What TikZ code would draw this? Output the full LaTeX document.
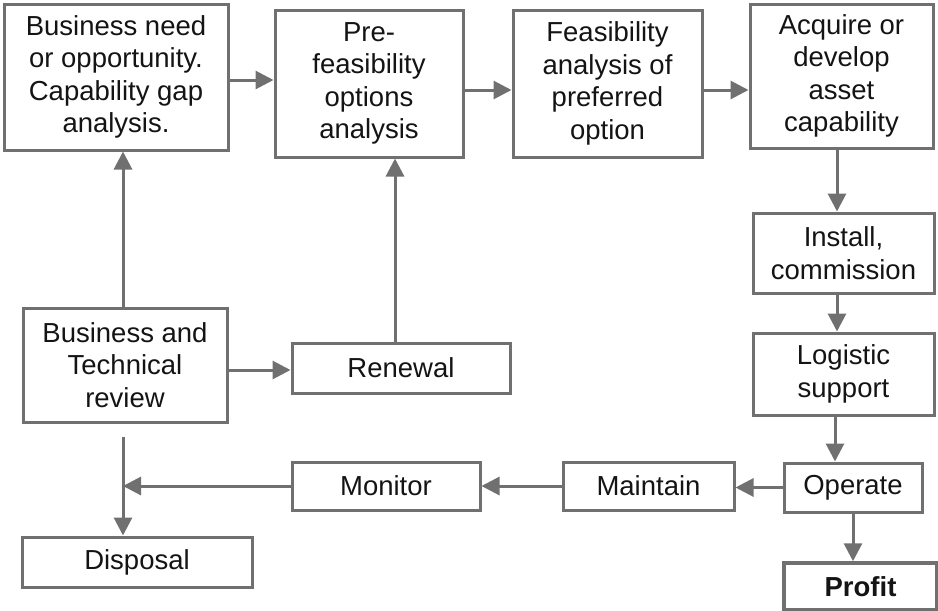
\documentclass[tikz,border=0pt]{standalone}
\usepackage{fontspec}
\setmainfont{Liberation Sans}
\usetikzlibrary{arrows.meta}
\definecolor{edgegray}{RGB}{112,112,112}
\definecolor{inkcol}{RGB}{20,20,20}
\begin{document}
\begin{tikzpicture}[x=1pt,y=-1pt,
  stage/.style={draw=edgegray, line width=3pt, fill=white, rectangle,
    align=center, text=inkcol, inner sep=0pt,
    font=\fontsize{27.5}{32.5}\selectfont},
  flow/.style={draw=edgegray, line width=3pt,
    -{Triangle[length=18pt,width=18pt]}}]
\useasboundingbox (0,0) rectangle (938,611);

% top row
\node[stage, minimum width=224, minimum height=146] (need) at (116,77)
  {Business need\\or opportunity.\\Capability gap\\analysis.};
\node[stage, minimum width=188, minimum height=147] (pre) at (369,83.5)
  {Pre-\\feasibility\\options\\analysis};
\node[stage, minimum width=189, minimum height=147] (feas) at (607.5,83.5)
  {Feasibility\\analysis of\\preferred\\option};
\node[stage, minimum width=183, minimum height=144] (acq) at (841.5,76)
  {Acquire or\\develop\\asset\\capability};

% right column
\node[stage, minimum width=181, minimum height=80] (inst) at (843.5,253)
  {Install,\\commission};
\node[stage, minimum width=181, minimum height=82] (logi) at (843.5,374)
  {Logistic\\support};
\node[stage, minimum width=138, minimum height=49] (oper) at (853,487.5)
  {Operate};
\node[stage, minimum width=153, minimum height=47, line width=3.5pt,
  font=\fontsize{27.5}{32.5}\selectfont\bfseries] (prof) at (860.5,586.5)
  {Profit};

% bottom row
\node[stage, minimum width=171, minimum height=48] (main) at (648.5,486)
  {Maintain};
\node[stage, minimum width=188, minimum height=48] (moni) at (386,486)
  {Monitor};

% left side
\node[stage, minimum width=204, minimum height=114] (btr) at (125,365)
  {Business and\\Technical\\review};
\node[stage, minimum width=218, minimum height=50] (renw) at (401,368)
  {Renewal};
\node[stage, minimum width=230, minimum height=50] (disp) at (137,562)
  {Disposal};

% main flow
\draw[flow] ([yshift=-3]need.east) -- ([yshift=-3]need.east -| pre.west);
\draw[flow] ([yshift=-6.5]pre.east) -- ([yshift=-6.5]pre.east -| feas.west);
\draw[flow] ([yshift=-6.5]feas.east) -- ([yshift=-6.5]feas.east -| acq.west);
\draw[flow] ([xshift=-4.5]acq.south) -- ([xshift=-4.5]acq.south |- inst.north);
\draw[flow] ([xshift=-6.5]inst.south) -- ([xshift=-6.5]inst.south |- logi.north);
\draw[flow] ([xshift=-8.5]logi.south) -- ([xshift=-8.5]logi.south |- oper.north);
\draw[flow] (oper.south) -- (oper.south |- prof.north);
\draw[flow] (oper.west) -- (oper.west -| main.east);
\draw[flow] (main.west) -- (moni.east);

% review loop
\draw[flow] ([xshift=-2]btr.north) -- ([xshift=-2]btr.north |- need.south);
\draw[flow] ([yshift=-5]btr.east) -- ([yshift=-5]btr.east -| renw.west);
\draw[flow] ([xshift=-6]renw.north) -- ([xshift=-6]renw.north |- pre.south);
\coordinate (split) at ([xshift=-2,yshift=-13]btr.south);
\draw[flow] (split) -- (split |- disp.north);
\draw[flow] (moni.west) -- (moni.west -| split);
\end{tikzpicture}
\end{document}
